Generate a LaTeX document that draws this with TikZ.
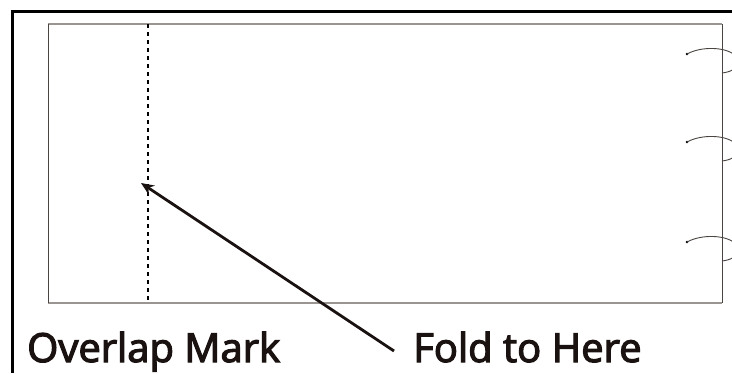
\documentclass[tikz,border=0pt]{standalone}
\usepackage{fontspec}
\setmainfont{Open Sans}[FakeBold=3]
\usepackage{xcolor}
\usetikzlibrary{arrows.meta}
\definecolor{fmC1}{HTML}{000000}
\definecolor{fmC2}{HTML}{9A9590}
\definecolor{fmC3}{HTML}{4A4543}
\definecolor{fmC4}{HTML}{1A1210}
\begin{document}
\begin{tikzpicture}[x=1pt,y=-1pt,lbl/.style={anchor=base west,inner sep=0pt,text=fmC4,font=\fontsize{40}{42}\selectfont}]
\useasboundingbox (0,0) rectangle (732,373);
\clip (0,0) rectangle (732,373);
% frame and sheet
\draw[fmC1,line width=3pt](12,373)--(12,11)--(732,11);
\draw[fmC2,line width=1.2pt](48,24)--(722,24);\draw[fmC2,line width=1.2pt](48,303)--(722,303);
\draw[fmC3,line width=1pt](48,24)--(48,303);\draw[fmC3,line width=1pt](722,24)--(722,303);
\draw[fmC1,line width=1.3pt,dash pattern=on 4pt off 4pt](148,24)--(148,303);
% curls on the right edge
\foreach \y in {54,142,242}{
\fill[fmC1](687,\y)circle(1.4pt);
\draw[fmC3,line width=0.9pt](687,\y)..controls(705,\y-10)and(738,\y-6)..(738,\y+8)..controls(738,\y+15)and(730,\y+18)..(722,\y+19);}
% labels
\node[lbl](overlap) at (27,362){Overlap Mark};
\node[lbl](fold) at (413,362){Fold to Here};
\coordinate(mark) at (141,183);
\coordinate(tail) at (394,351);
\draw[fmC4,line width=2.8pt,-{Stealth[length=13pt,width=11pt]}](tail)--(mark);
\end{tikzpicture}
\end{document}
